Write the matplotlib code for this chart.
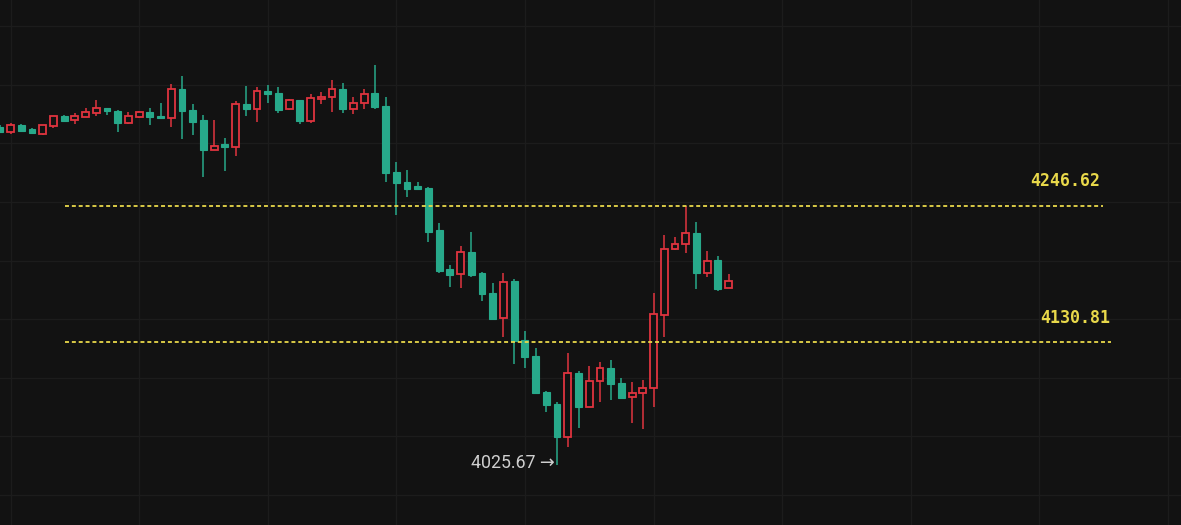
import matplotlib
matplotlib.use("Agg")
import matplotlib.pyplot as plt
from matplotlib.patches import Rectangle

# OHLC data (one candle per period)
opens = [4314.3, 4309.5, 4315.7, 4312.0, 4308.0, 4314.9, 4323.4, 4319.7, 4322.8, 4325.7,
         4330.0, 4327.7, 4317.2, 4322.3, 4327.1, 4323.4, 4321.4, 4346.2, 4328.5, 4320.0,
         4294.4, 4299.2, 4296.7, 4333.6, 4329.1, 4345.0, 4342.8, 4329.1, 4337.1, 4319.4,
         4337.7, 4339.4, 4346.2, 4329.1, 4334.2, 4342.8, 4332.2, 4275.9, 4267.3, 4263.7,
         4262.2, 4226.1, 4192.6, 4188.5, 4207.6, 4189.1, 4172.1, 4151.3, 4182.8, 4132.2,
         4118.6, 4088.1, 4077.6, 4049.7, 4104.3, 4075.3, 4097.5, 4108.1, 4095.3, 4083.3,
         4087.2, 4091.0, 4153.6, 4209.9, 4214.2, 4223.3, 4189.7, 4200.5, 4176.9]
highs = [4315.7, 4317.2, 4316.6, 4312.9, 4316.1, 4323.8, 4324.3, 4325.7, 4330.5, 4337.1,
         4330.3, 4328.5, 4327.1, 4327.5, 4330.0, 4334.8, 4350.7, 4357.5, 4333.6, 4324.3,
         4320.0, 4304.9, 4336.5, 4349.0, 4347.9, 4349.9, 4347.9, 4337.5, 4337.3, 4341.9,
         4344.1, 4354.1, 4351.8, 4339.4, 4346.2, 4366.9, 4339.4, 4284.4, 4277.3, 4267.3,
         4262.5, 4231.8, 4196.2, 4212.4, 4224.1, 4190.5, 4181.1, 4189.7, 4184.0, 4139.9,
         4125.6, 4088.3, 4079.6, 4121.4, 4106.0, 4110.0, 4113.2, 4115.1, 4099.5, 4096.1,
         4098.1, 4172.1, 4221.8, 4220.4, 4246.62, 4232.7, 4208.2, 4203.9, 4188.6]
lows = [4308.9, 4308.0, 4310.2, 4308.0, 4307.6, 4313.2, 4318.5, 4316.6, 4322.3, 4323.4,
        4324.3, 4310.0, 4316.6, 4321.9, 4315.7, 4321.3, 4314.3, 4303.5, 4307.2, 4271.6,
        4294.0, 4276.5, 4289.5, 4323.4, 4318.0, 4334.8, 4326.2, 4328.5, 4316.3, 4317.7,
        4333.4, 4327.1, 4326.2, 4324.9, 4329.1, 4329.1, 4267.3, 4238.9, 4254.0, 4260.7,
        4215.6, 4189.1, 4177.7, 4176.3, 4186.0, 4165.8, 4149.3, 4135.0, 4111.7, 4108.6,
        4086.1, 4071.0, 4025.67, 4040.9, 4056.9, 4075.0, 4079.6, 4081.0, 4082.5, 4061.6,
        4056.3, 4075.3, 4135.0, 4209.0, 4206.7, 4175.5, 4186.2, 4174.3, 4176.9]
closes = [4310.0, 4315.7, 4310.9, 4308.6, 4315.5, 4323.4, 4319.4, 4323.4, 4327.1, 4330.0,
          4327.9, 4317.2, 4323.4, 4327.1, 4322.8, 4321.4, 4346.2, 4327.7, 4318.5, 4294.4,
          4297.8, 4296.7, 4333.6, 4329.1, 4345.0, 4341.9, 4328.5, 4337.1, 4319.4, 4338.5,
          4339.9, 4346.2, 4329.1, 4334.8, 4342.2, 4331.3, 4275.0, 4266.0, 4260.8, 4260.8,
          4224.7, 4191.4, 4187.7, 4207.6, 4187.7, 4171.5, 4150.1, 4182.0, 4131.6, 4117.5,
          4086.7, 4076.7, 4049.7, 4104.3, 4075.3, 4097.5, 4108.1, 4094.7, 4083.0, 4087.2,
          4091.0, 4154.2, 4209.9, 4214.2, 4223.3, 4189.1, 4199.9, 4175.7, 4182.6]

level_high = 4246.62
level_mid = 4130.81
low_label = "4025.67 →"
low_index = 52

BG = "#121212"
GRID = "#1c1c1c"
UP = "#e0343f"      # rising candles: hollow red
DOWN = "#27a98a"    # falling candles: filled green
LEVEL = "#e8d84a"

W, H = 1181, 525
fig = plt.figure(figsize=(W / 100, H / 100), dpi=100, facecolor=BG)
ax = fig.add_axes([0, 0, 1, 1], facecolor=BG)

px_per_candle = 10.717
x0 = 0.02
ax.set_xlim(x0, x0 + W / px_per_candle)
ax.set_ylim(3974.3, 4422.4)

# grid
for gx in range(1, 111, 12):
    ax.axvline(gx, color=GRID, lw=1, zorder=0)
for gy in range(4000, 4450, 50):
    ax.axhline(gy, color=GRID, lw=1, zorder=0)

body_w = 0.64
for i, (o, h, l, c) in enumerate(zip(opens, highs, lows, closes)):
    up = c >= o
    col = UP if up else DOWN
    top = max(o, c)
    bot = min(o, c)
    if up:
        ax.vlines(i, top, h, color=col, lw=1.1, zorder=2)
        ax.vlines(i, l, bot, color=col, lw=1.1, zorder=2)
        ax.add_patch(Rectangle((i - body_w / 2, bot), body_w, max(top - bot, 0.6),
                               facecolor=BG, edgecolor=col, lw=1.3, zorder=3))
    else:
        ax.vlines(i, l, h, color=col, lw=1.1, zorder=2)
        ax.add_patch(Rectangle((i - body_w / 2, bot), body_w, max(top - bot, 0.6),
                               facecolor=col, edgecolor=col, lw=0.8, zorder=3))

# level lines
ax.hlines(level_high, 6.09, 102.94, colors=LEVEL, linestyles=(0, (2.2, 1.6)), lw=1.3, zorder=4)
ax.hlines(level_mid, 6.09, 103.69, colors=LEVEL, linestyles=(0, (2.2, 1.6)), lw=1.3, zorder=4)
ax.text(102.65, level_high + 21, f"{level_high:.2f}", color=LEVEL, ha="right", va="center",
        fontsize=12, family="DejaVu Sans Mono", fontweight="bold", zorder=5)
ax.text(103.6, level_mid + 20.5, f"{level_mid:.2f}", color=LEVEL, ha="right", va="center",
        fontsize=12, family="DejaVu Sans Mono", fontweight="bold", zorder=5)

# low annotation
ax.text(low_index - 0.25, lows[low_index] + 1.5, low_label, color="#cfcfcf",
        ha="right", va="center", fontsize=12.8, family=["Roboto", "DejaVu Sans"], zorder=5)

ax.set_axis_off()
fig.savefig("out.png", dpi=100, facecolor=BG)
